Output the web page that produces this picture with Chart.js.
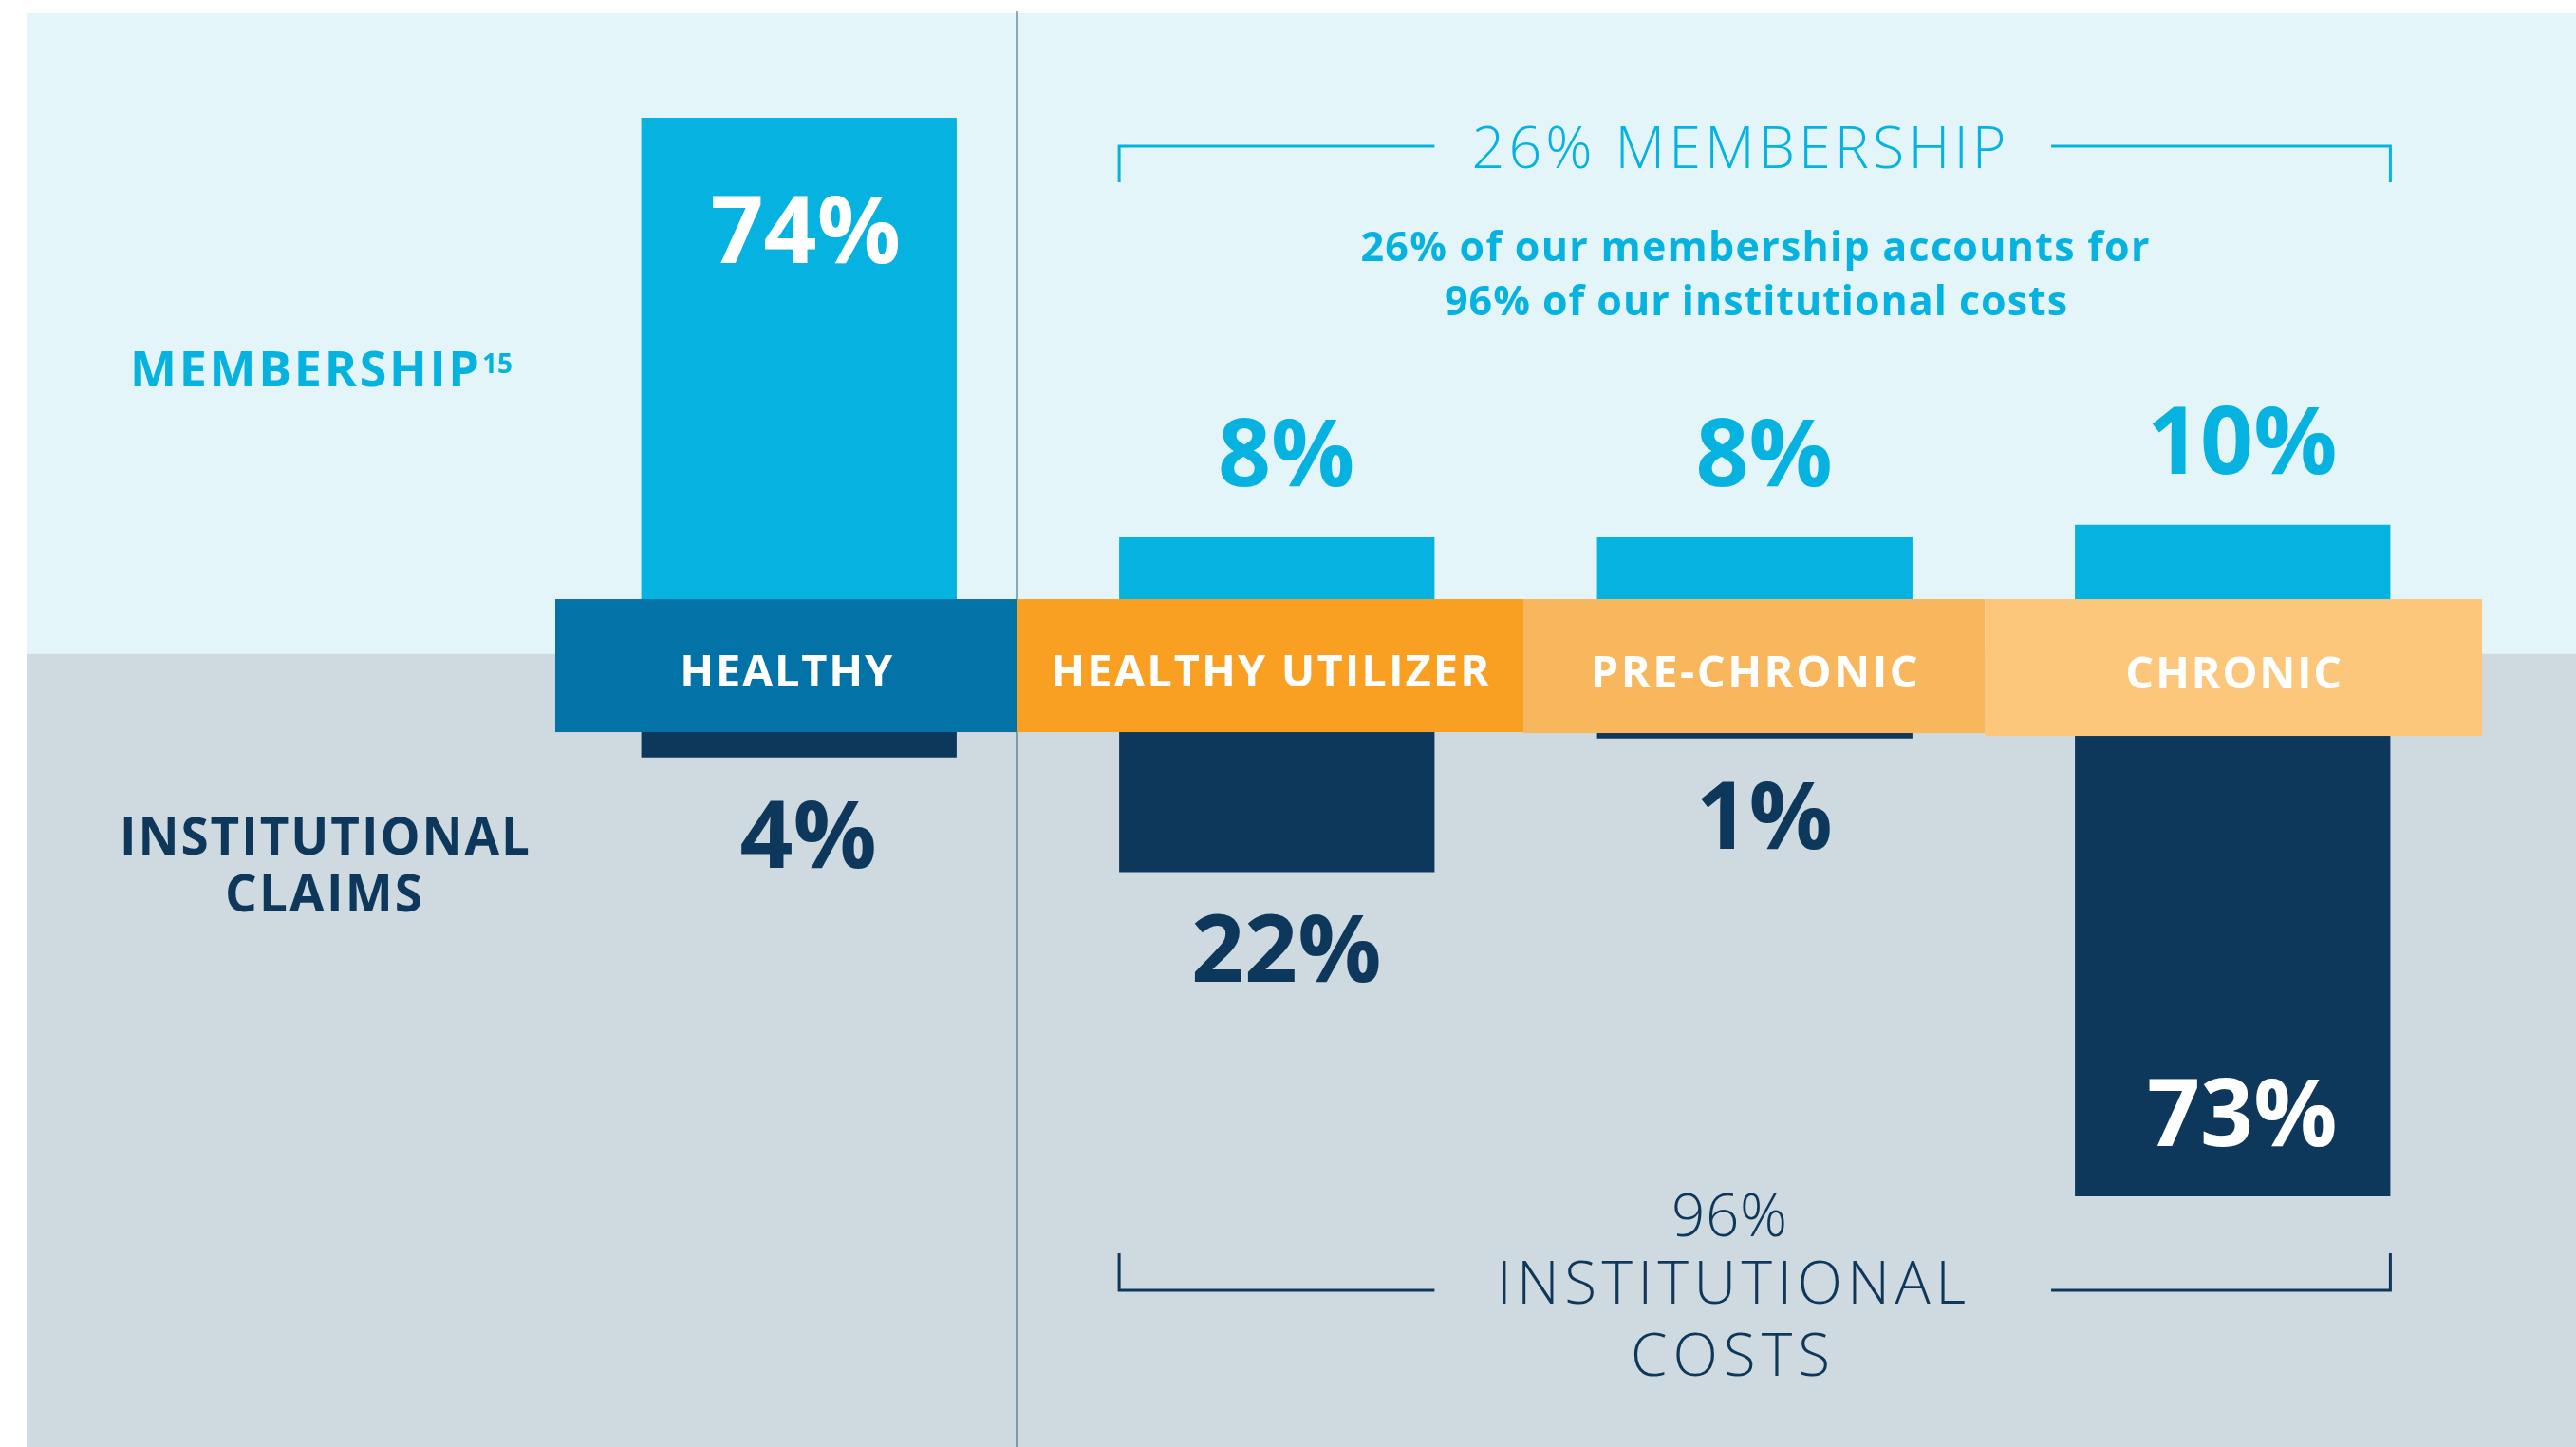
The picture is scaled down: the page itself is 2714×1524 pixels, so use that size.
<!DOCTYPE html>
<html>
<head>
<meta charset="utf-8">
<script src="https://cdn.jsdelivr.net/npm/chart.js@4.4.1/dist/chart.umd.min.js"></script>
<style>
  html, body { margin: 0; padding: 0; background: #fff; }
  #wrap { position: relative; width: 2714px; height: 1524px; }
</style>
</head>
<body>
<div id="wrap"><canvas id="groups"></canvas></div>
<script>
const categories = ['HEALTHY', 'HEALTHY UTILIZER', 'PRE-CHRONIC', 'CHRONIC'];
const membership = [74, 8, 8, 10];   // % of membership
const claims = [4, 22, 1, 73];       // % of institutional claims

// Colours
const LIGHT_BG = '#E4F5FA';
const GRAY_BG = '#CFDAE0';
const CYAN = '#05B2E0';
const NAVY = '#0E385B';
const BAND_COLORS = ['#0372A6', '#F99F22', '#F9B75D', '#FCC67B'];

// Value axis layout (percentage units)
const Y_MAX = 92.5;
const Y_MIN = -135;
const BAND_TOP = -1.7;       // top of the category strip
const CLAIMS_ZERO = -22.6;   // claim bars hang from here
const FONT = '"Open Sans"';

// Draw a line of text centred on cx, optionally spaced/stretched to a width
function drawText(ctx, str, cx, baseline, size, weight, color, width) {
    ctx.save();
    ctx.font = weight + ' ' + size + 'px ' + FONT;
    ctx.fillStyle = color;
    ctx.textBaseline = 'alphabetic';
    ctx.textAlign = 'left';
    const w = ctx.measureText(str).width;
    if (width && width > w && 'letterSpacing' in ctx) {
        ctx.letterSpacing = ((width - w) / (str.length - 1)) + 'px';
        ctx.fillText(str, cx - width / 2, baseline);
    } else if (width) {
        ctx.translate(cx - width / 2, baseline);
        ctx.scale(width / w, 1);
        ctx.fillText(str, 0, 0);
    } else {
        ctx.fillText(str, cx - w / 2, baseline);
    }
    ctx.restore();
}

// Band edges: between bar slots, nudged like the original artwork
function bandEdges(chart) {
    const x = chart.scales.x;
    const c = categories.map((_, i) => x.getPixelForValue(i));
    const slot = c[1] - c[0];
    return [
        c[0] - slot * 0.51,
        (c[0] + c[1]) / 2 - 22,
        (c[1] + c[2]) / 2 + 8,
        (c[2] + c[3]) / 2 - 9,
        c[3] + slot * 0.522
    ];
}

const infographic = {
    id: 'infographic',
    beforeDatasetsDraw(chart) {
        const ctx = chart.ctx;
        const y = chart.scales.y;
        const split = y.getPixelForValue(-10.3);
        ctx.save();
        ctx.fillStyle = '#fff';
        ctx.fillRect(0, 0, chart.width, chart.height);
        ctx.fillStyle = LIGHT_BG;
        ctx.fillRect(28, 14, chart.width - 28, split - 14);
        ctx.fillStyle = GRAY_BG;
        ctx.fillRect(28, split, chart.width - 28, chart.height - split);
        // divider between healthy and the rest
        const edges = bandEdges(chart);
        ctx.strokeStyle = '#34587A';
        ctx.lineWidth = 2;
        ctx.beginPath();
        ctx.moveTo(edges[1], 12);
        ctx.lineTo(edges[1], chart.height);
        ctx.stroke();
        ctx.restore();
    },
    afterDatasetsDraw(chart) {
        const ctx = chart.ctx;
        const y = chart.scales.y;
        const edges = bandEdges(chart);
        const top = y.getPixelForValue(BAND_TOP);
        const bottom = y.getPixelForValue(CLAIMS_ZERO);

        // category strip
        const bandExtra = [0, 0, 1, 4];
        categories.forEach((name, i) => {
            ctx.fillStyle = BAND_COLORS[i];
            ctx.fillRect(edges[i], top, edges[i + 1] - edges[i], bottom - top + bandExtra[i]);
        });
        const bandWidths = [224, 462, 345, 228];
        categories.forEach((name, i) => {
            const cx = (edges[i] + edges[i + 1]) / 2;
            drawText(ctx, name, cx, (top + bottom) / 2 + 22 + bandExtra[i] / 2, 47, 700, '#fff', bandWidths[i]);
        });

        // value labels
        const memBars = chart.getDatasetMeta(0).data;
        const claimBars = chart.getDatasetMeta(1).data;
        membership.forEach((v, i) => {
            const bar = memBars[i];
            if (v > 50) {
                drawText(ctx, v + '%', bar.x + 7, bar.y + 153, 98, 700, '#fff');
            } else {
                drawText(ctx, v + '%', bar.x + 10, bar.y - 54, 98, 700, CYAN);
            }
        });
        claims.forEach((v, i) => {
            const bar = claimBars[i];
            if (v > 50) {
                drawText(ctx, v + '%', bar.x + 10, bar.y - 53, 98, 700, '#fff');
            } else {
                drawText(ctx, v + '%', bar.x + 10, bar.y + 116, 98, 700, NAVY);
            }
        });

        // side titles
        drawText(ctx, 'MEMBERSHIP', 321, 407, 52, 700, CYAN, 368);
        drawText(ctx, '15', 524, 393, 28, 700, CYAN);
        drawText(ctx, 'INSTITUTIONAL', 342, 900, 53, 700, NAVY, 432);
        drawText(ctx, 'CLAIMS', 341, 960, 53, 700, NAVY, 208);

        // brackets over the three utilizer groups
        const left = memBars[1].x - memBars[1].width / 2;
        const leftEnd = memBars[1].x + memBars[1].width / 2;
        const right = memBars[3].x + memBars[3].width / 2;
        const rightStart = memBars[3].x - memBars[3].width / 2 - 25;
        const memTotal = membership.slice(1).reduce((a, b) => a + b, 0);
        const costTotal = claims.slice(1).reduce((a, b) => a + b, 0);

        ctx.save();
        ctx.lineWidth = 3;
        ctx.strokeStyle = CYAN;
        ctx.beginPath();
        ctx.moveTo(left, 192); ctx.lineTo(left, 154); ctx.lineTo(leftEnd, 154);
        ctx.moveTo(rightStart, 154); ctx.lineTo(right, 154); ctx.lineTo(right, 192);
        ctx.stroke();
        ctx.strokeStyle = NAVY;
        ctx.beginPath();
        ctx.moveTo(left, 1320); ctx.lineTo(left, 1359); ctx.lineTo(leftEnd, 1359);
        ctx.moveTo(rightStart, 1359); ctx.lineTo(right, 1359); ctx.lineTo(right, 1320);
        ctx.stroke();
        ctx.restore();

        drawText(ctx, memTotal + '% MEMBERSHIP', 1832, 177, 61, 300, CYAN, 563);
        drawText(ctx, memTotal + '% of our membership accounts for', 1849, 275, 43, 700, CYAN, 831);
        drawText(ctx, costTotal + '% of our institutional costs', 1850, 332, 43, 700, CYAN, 656);
        drawText(ctx, costTotal + '%', 1822, 1302, 62, 300, NAVY, 122);
        drawText(ctx, 'INSTITUTIONAL', 1824, 1373, 62, 300, NAVY, 494);
        drawText(ctx, 'COSTS', 1823, 1449, 62, 300, NAVY, 210);
    }
};

new Chart(document.getElementById('groups'), {
    type: 'bar',
    data: {
        labels: categories,
        datasets: [{
            label: 'Membership',
            data: membership,
            base: -3,
            backgroundColor: CYAN,
            grouped: false,
            barPercentage: 0.66,
            categoryPercentage: 1
        }, {
            label: 'Institutional claims',
            data: claims.map(v => CLAIMS_ZERO - v),
            base: CLAIMS_ZERO + 1,
            backgroundColor: NAVY,
            grouped: false,
            barPercentage: 0.66,
            categoryPercentage: 1
        }]
    },
    options: {
        responsive: true,
        maintainAspectRatio: false,
        animation: false,
        layout: { padding: { left: 590, right: 110, top: 0, bottom: 0 } },
        scales: {
            x: { display: false },
            y: { display: false, min: Y_MIN, max: Y_MAX }
        },
        plugins: {
            legend: { display: false },
            tooltip: { enabled: false }
        }
    },
    plugins: [infographic]
});
</script>
</body>
</html>
